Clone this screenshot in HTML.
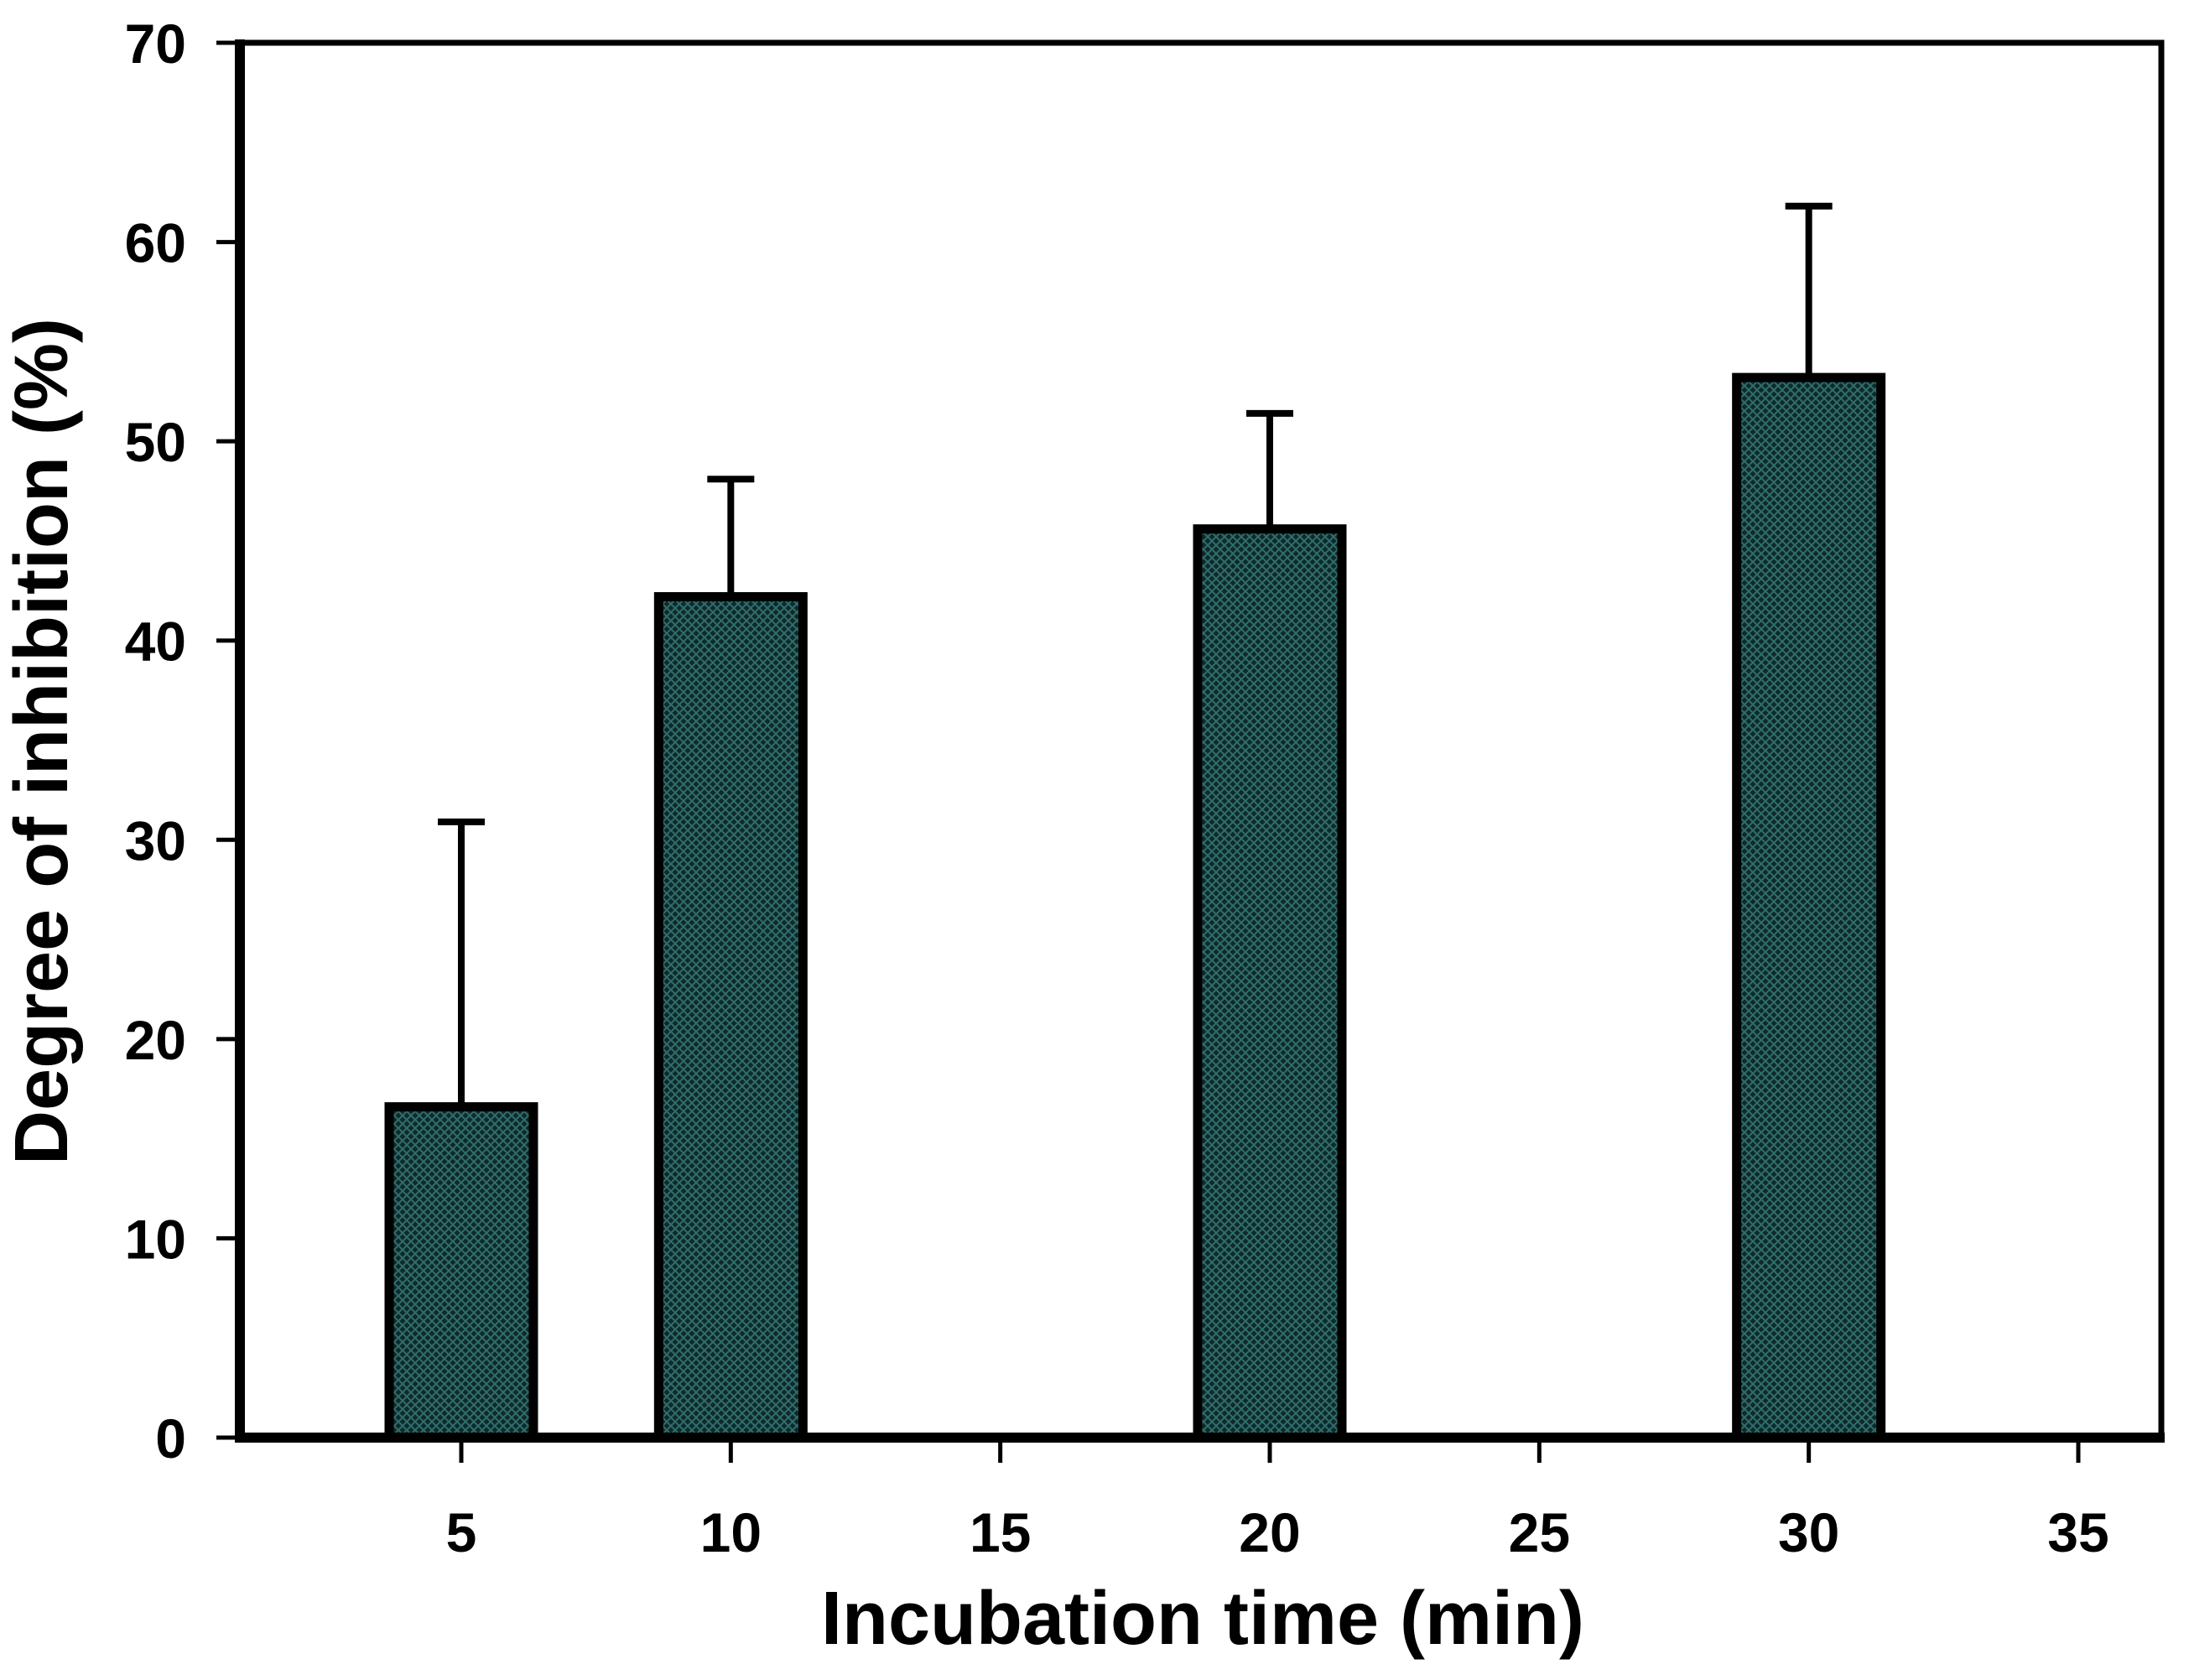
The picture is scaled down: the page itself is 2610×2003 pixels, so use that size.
<!DOCTYPE html>
<html><head><meta charset="utf-8"><style>
html,body{margin:0;padding:0;background:#fff;}
svg{display:block;font-family:"Liberation Sans",Arial,sans-serif;font-weight:bold;}
</style></head><body>
<svg id="chart" width="2610" height="2003" viewBox="0 0 2610 2003" xmlns="http://www.w3.org/2000/svg">
<defs>
<pattern id="hatch" width="10" height="10" patternUnits="userSpaceOnUse">
<rect width="10" height="10" fill="#0f2a2a"/>
<path d="M0 0L10 10M10 0L0 10" stroke="#2f6e6c" stroke-width="2"/>
</pattern>
</defs>
<g id="marks"></g>
<g id="axes"></g>
<text x="1434" y="1960" font-size="90" text-anchor="middle">Incubation time (min)</text>
<text transform="translate(80,884) rotate(-90)" font-size="90" text-anchor="middle">Degree of inhibition (%)</text>
</svg>
<script>
const categories = [5, 10, 20, 30];
const values = [16.6, 42.2, 45.6, 53.2];
const errorTops = [30.9, 48.1, 51.4, 61.8];
const xTicks = [5, 10, 15, 20, 25, 30, 35];
const yTicks = [0, 10, 20, 30, 40, 50, 60, 70];

const NS = 'http://www.w3.org/2000/svg';
const L = 286, R = 2577, T = 51, B = 1714;
function xs(v){ return 550 + (v - 5) * (2478 - 550) / 30; }
function ys(v){ return B - v * (B - T) / 70; }
function mk(tag, attrs, parent){
  const e = document.createElementNS(NS, tag);
  for (const k in attrs) e.setAttribute(k, attrs[k]);
  parent.appendChild(e);
  return e;
}
const marks = document.getElementById('marks');
const axes = document.getElementById('axes');
const bw = 172;
categories.forEach((c, i) => {
  const cx = xs(c);
  const el = mk('line', {x1: cx, x2: cx, y1: ys(errorTops[i]), y2: ys(values[i]), stroke: '#000', 'stroke-width': 8}, marks);
  
  
  const cap = mk('line', {x1: cx - 28, x2: cx + 28, y1: ys(errorTops[i]), y2: ys(errorTops[i]), stroke: '#000', 'stroke-width': 8}, marks);
  
  
  const r = mk('rect', {x: cx - bw/2, y: ys(values[i]), width: bw, height: B - ys(values[i]), fill: 'url(#hatch)', stroke: '#000', 'stroke-width': 11}, marks);
  
  
});
const frame = mk('rect', {x: L, y: T, width: R - L, height: B - T, fill: 'none', stroke: '#000', 'stroke-width': 7}, axes);


const xa = mk('line', {x1: L - 6, x2: R + 4, y1: B, y2: B, stroke: '#000', 'stroke-width': 12}, axes);


const ya = mk('line', {x1: L, x2: L, y1: T - 4, y2: B + 6, stroke: '#000', 'stroke-width': 12}, axes);


yTicks.forEach(v => {
  const t = mk('line', {x1: L - 28, x2: L, y1: ys(v), y2: ys(v), stroke: '#000', 'stroke-width': 5}, axes);
  
  
  const lb = mk('text', {x: 222, y: ys(v) + 24, 'font-size': 66, 'text-anchor': 'end'}, axes);
  lb.textContent = v;
  
  
});
xTicks.forEach(v => {
  const t = mk('line', {x1: xs(v), x2: xs(v), y1: B, y2: B + 30, stroke: '#000', 'stroke-width': 5}, axes);
  
  
  const lb = mk('text', {x: xs(v), y: 1850, 'font-size': 66, 'text-anchor': 'middle'}, axes);
  lb.textContent = v;
  
  
});
</script>
</body></html>
